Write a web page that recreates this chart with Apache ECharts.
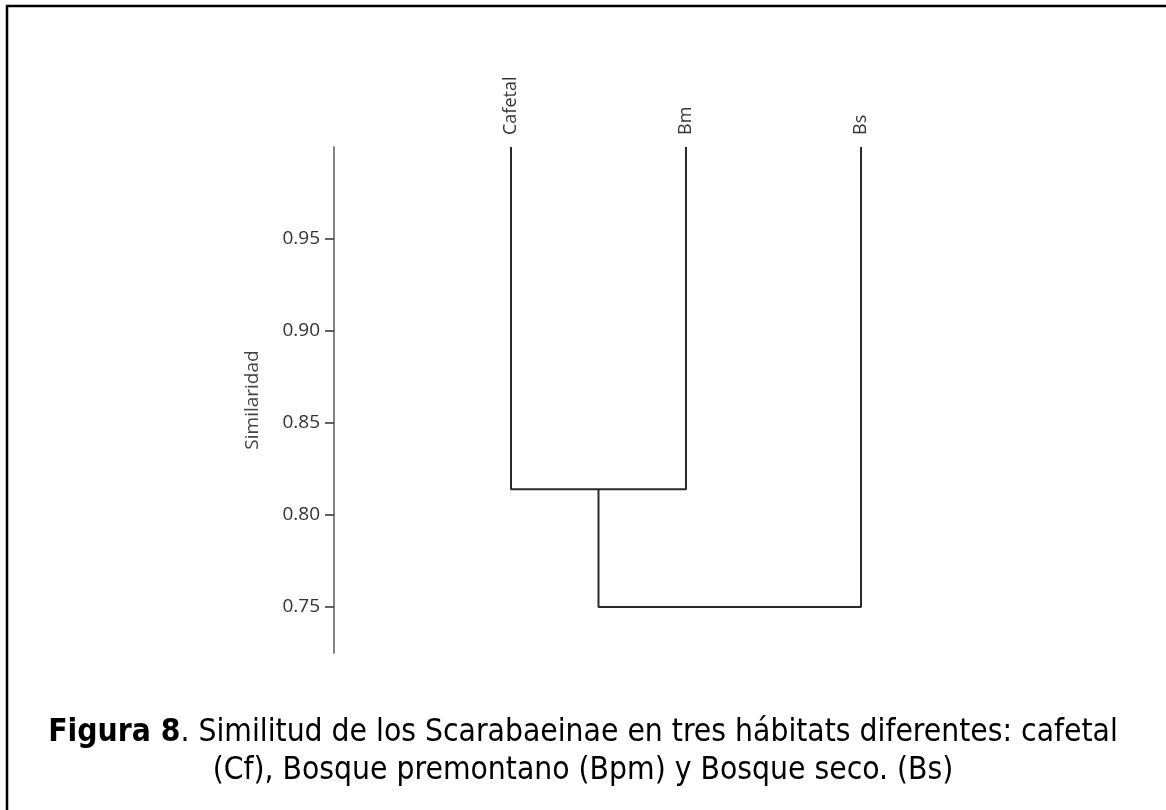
<!DOCTYPE html>
<html>
<head>
<meta charset="utf-8">
<script src="https://cdn.jsdelivr.net/npm/echarts@6/dist/echarts.min.js"></script>
<style>html,body{margin:0;padding:0;background:#fff;}#c{width:1166px;height:810px;}</style>
</head>
<body>
<div id="c"></div>
<script>
// Data
const leafNames = ['Cafetal', 'Bm', 'Bs'];
const leafPos = [1, 2, 3];
const leafTop = 1.0;
// merges: [leftChild, rightChild, height]; children >= 0 are leaves, negative = -(merge index+1)
const merges = [[0, 1, 0.814], [-1, 2, 0.75]];
const yTicks = [0.75, 0.80, 0.85, 0.90, 0.95];
const yName = 'Similaridad';
const captionBold = 'Figura 8';
const captionRest = '. Similitud de los Scarabaeinae en tres hábitats diferentes: cafetal';
const captionLine2 = '(Cf), Bosque premontano (Bpm) y Bosque seco. (Bs)';

const nodeX = [], nodeY = [];
function getNode(id) {
  if (id >= 0) return [leafPos[id], leafTop];
  const k = -id - 1;
  return [nodeX[k], nodeY[k]];
}
const series = [];
merges.forEach((m, i) => {
  const a = getNode(m[0]), b = getNode(m[1]), h = m[2];
  series.push({
    type: 'line', symbol: 'none', silent: true, animation: false,
    lineStyle: { color: '#2a2a2a', width: 2 },
    data: [[a[0], a[1]], [a[0], h], [b[0], h], [b[0], b[1]]]
  });
  nodeX[i] = (a[0] + b[0]) / 2;
  nodeY[i] = h;
});

const chart = echarts.init(document.getElementById('c'), null, { renderer: 'canvas' });
chart.setOption({
  backgroundColor: '#fff',
  animation: false,
  grid: { left: 336, top: 147, width: 700, bottom: 157 },
  xAxis: {
    type: 'value', position: 'top', min: 0, max: 4,
    splitLine: { show: false }, axisLine: { show: false }, axisTick: { show: false },
    axisLabel: {
      customValues: leafPos, rotate: -90, margin: 12,
      formatter: v => leafNames[leafPos.indexOf(v)] || '',
      color: '#333', fontFamily: 'Open Sans', fontSize: 18
    }
  },
  yAxis: {
    type: 'value', min: 0.725, max: 1.0, offset: 2,
    splitLine: { show: false },
    axisLine: { show: true, onZero: false, lineStyle: { color: '#858585', width: 2 } },
    axisTick: { show: true, customValues: yTicks, length: 9, lineStyle: { color: '#333', width: 1.5 } },
    axisLabel: {
      customValues: yTicks, margin: 14, color: '#333',
      fontFamily: 'Open Sans', fontSize: 19,
      formatter: v => v.toFixed(2)
    },
    name: yName, nameLocation: 'middle', nameGap: 72, nameRotate: 90,
    nameTextStyle: { color: '#444', fontFamily: 'Open Sans', fontSize: 19 }
  },
  series: series,
  graphic: [
    { type: 'rect', shape: { x: 7, y: 6, width: 1300, height: 900 }, style: { fill: 'none', stroke: '#000', lineWidth: 2.5 }, silent: true },
    {
      type: 'text', left: 'center', top: 717,
      style: {
        rich: {
          b: { fontWeight: 'bold', fontSize: 31.5, fontFamily: 'DejaVu Sans Condensed', fill: '#000' },
          n: { fontSize: 31.5, fontFamily: 'DejaVu Sans Condensed', fill: '#000' }
        },
        text: '{b|' + captionBold + '}{n|' + captionRest + '}',
        fill: '#000'
      }
    },
    {
      type: 'text', left: 'center', top: 755,
      style: { text: captionLine2, fontSize: 31.5, fontFamily: 'DejaVu Sans Condensed', fill: '#000' }
    }
  ]
});
</script>
</body>
</html>
